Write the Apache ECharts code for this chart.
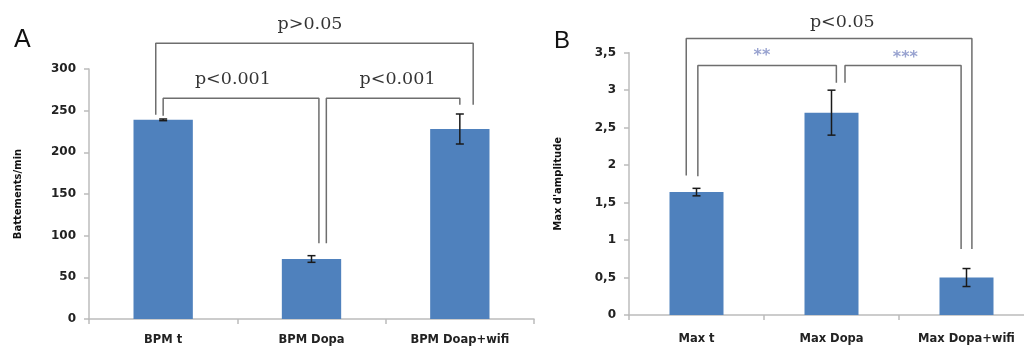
<!DOCTYPE html>
<html>
<head>
<meta charset="utf-8">
<script src="https://cdn.jsdelivr.net/npm/echarts@6/dist/echarts.min.js"></script>
<style>
  html, body { margin: 0; padding: 0; background: #fff; }
  #chart { width: 1024px; height: 348px; }
</style>
</head>
<body>
<div id="chart"></div>
<script>
// panel A
const catsA = ["BPM t", "BPM Dopa", "BPM Doap+wifi"];
const bpm = [239, 72, 228];
const bpmErr = [1, 4, 18];
// brackets in data units: [x, y] along the polyline (x = category index)
const bracketsA = [
  [[-0.05, 245], [-0.05, 331], [2.09, 331], [2.09, 257]],
  [[0, 244], [0, 265], [1.05, 265], [1.05, 91]],
  [[1.1, 91], [1.1, 265], [2.0, 265], [2.0, 257]]
];
const pLabelsA = [["p>0.05", 0.99, 353], ["p<0.001", 0.47, 287], ["p<0.001", 1.58, 287]];

// panel B
const catsB = ["Max t", "Max Dopa", "Max Dopa+wifi"];
const amp = [1.64, 2.7, 0.5];
const ampErr = [0.05, 0.3, 0.12];
const bracketsB = [
  [[-0.076, 1.86], [-0.076, 3.69], [2.04, 3.69], [2.04, 0.88]],
  [[0.01, 1.85], [0.01, 3.33], [1.036, 3.33], [1.036, 3.1]],
  [[1.1, 3.1], [1.1, 3.33], [1.96, 3.33], [1.96, 0.88]]
];
const pLabelsB = [["p<0.05", 1.08, 3.9]];
const starsB = [["**", 0.485, 3.505], ["***", 1.547, 3.48]];

const barColor = "#4f81bd";
const axisGray = "#bcbcbc";
const tickFont = { fontFamily: "DejaVu Sans", fontWeight: "bold", color: "#222" };

var chart = echarts.init(document.getElementById("chart"));

function errRender(params, api) {
  var i = api.value(0), v = api.value(1), e = api.value(2);
  var top = api.coord([i, v + e]);
  var bot = api.coord([i, v - e]);
  var hw = 4;
  var st = { stroke: "#1a1a1a", lineWidth: 1.5 };
  return {
    type: "group",
    children: [
      { type: "line", shape: { x1: top[0], y1: top[1], x2: bot[0], y2: bot[1] }, style: st },
      { type: "line", shape: { x1: top[0] - hw, y1: top[1], x2: top[0] + hw, y2: top[1] }, style: st },
      { type: "line", shape: { x1: bot[0] - hw, y1: bot[1], x2: bot[0] + hw, y2: bot[1] }, style: st }
    ]
  };
}

function bracketSeries(list, xi, yi) {
  return list.map(function (pts) {
    return {
      type: "line",
      xAxisIndex: xi,
      yAxisIndex: yi,
      data: pts,
      symbol: "none",
      clip: false,
      silent: true,
      z: 5,
      lineStyle: { color: "#6e6e6e", width: 1.5 }
    };
  });
}

function textSeries(list, xi, yi, style) {
  return {
    type: "scatter",
    xAxisIndex: xi,
    yAxisIndex: yi,
    clip: false,
    silent: true,
    symbolSize: 1,
    itemStyle: { color: "rgba(0,0,0,0)" },
    z: 6,
    data: list.map(function (t) { return { name: t[0], value: [t[1], t[2]] }; }),
    label: Object.assign({ show: true, position: "inside", formatter: "{b}" }, style)
  };
}

function catAxis(data, gi, margin) {
  return {
    type: "category",
    gridIndex: gi,
    data: data,
    axisLine: { onZero: false, lineStyle: { color: axisGray, width: 1.5 } },
    axisTick: { show: true, length: 5, lineStyle: { color: axisGray, width: 1.5 } },
    axisLabel: Object.assign({ margin: margin, interval: 0, fontSize: 11.5 }, tickFont),
    splitLine: { show: false }
  };
}

function hiddenX(gi) {
  return { type: "value", gridIndex: gi, min: -0.5, max: 2.5, show: false };
}

function valAxis(gi, max, interval, name, fmt) {
  return {
    type: "value", gridIndex: gi, min: 0, max: max, interval: interval,
    name: name, nameLocation: "middle", nameRotate: 90, nameGap: 66,
    nameTextStyle: { fontFamily: "DejaVu Sans", fontWeight: "bold", fontSize: 10, color: "#111" },
    axisLine: { show: true, onZero: false, lineStyle: { color: axisGray, width: 1.5 } },
    axisTick: { show: true, length: 5, lineStyle: { color: axisGray, width: 1.5 } },
    axisLabel: Object.assign({ margin: 13, fontSize: 12, formatter: fmt }, tickFont),
    splitLine: { show: false }
  };
}

chart.setOption({
  animation: false,
  grid: [
    { left: 89, top: 69, width: 445, height: 250, outerBoundsMode: "none" },
    { left: 629, top: 52.7, width: 405, height: 262.3, outerBoundsMode: "none" }
  ],
  xAxis: [catAxis(catsA, 0, 15), hiddenX(0), catAxis(catsB, 1, 18), hiddenX(1)],
  yAxis: [
    valAxis(0, 300, 50, "Battements/min"),
    valAxis(1, 3.5, 0.5, "Max d'amplitude", function (v) { return String(v).replace(".", ","); })
  ],
  graphic: [
    { type: "text", left: 14, top: 28, style: { text: "A", font: "25px 'Liberation Sans'", fill: "#111" } },
    { type: "text", left: 554, top: 29, style: { text: "B", font: "24px 'Liberation Sans'", fill: "#111" } }
  ],
  series: [
    { type: "bar", xAxisIndex: 0, yAxisIndex: 0, data: bpm, barWidth: "40%", itemStyle: { color: barColor } },
    { type: "bar", xAxisIndex: 2, yAxisIndex: 1, data: amp, barWidth: "40%", itemStyle: { color: barColor } },
    {
      type: "custom", xAxisIndex: 0, yAxisIndex: 0, renderItem: errRender, z: 4,
      data: bpm.map(function (v, i) { return [i, v, bpmErr[i]]; })
    },
    {
      type: "custom", xAxisIndex: 2, yAxisIndex: 1, renderItem: errRender, z: 4,
      data: amp.map(function (v, i) { return [i, v, ampErr[i]]; })
    }
  ].concat(
    bracketSeries(bracketsA, 1, 0),
    bracketSeries(bracketsB, 3, 1),
    [
      textSeries(pLabelsA, 1, 0, { fontFamily: "DejaVu Serif", fontSize: 17.5, color: "#000" }),
      textSeries(pLabelsB, 3, 1, { fontFamily: "DejaVu Serif", fontSize: 17.5, color: "#000" }),
      textSeries(starsB, 3, 1, { fontFamily: "DejaVu Sans", fontWeight: "bold", fontSize: 16, color: "#7f8cc4", offset: [0, 4] })
    ]
  )
});
</script>
</body>
</html>
